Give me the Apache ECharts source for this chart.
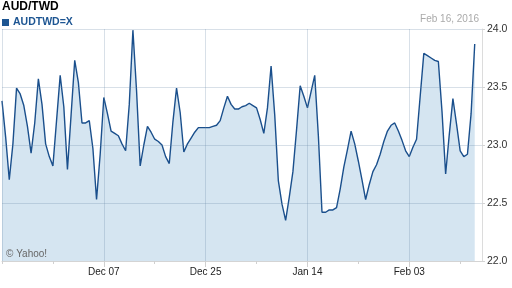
<!DOCTYPE html>
<html>
<head>
<meta charset="utf-8">
<script src="https://cdn.jsdelivr.net/npm/echarts@6/dist/echarts.min.js"></script>
<style>
html,body{margin:0;padding:0;background:#fff;}
#c{width:512px;height:288px;}
</style>
</head>
<body>
<div id="c"></div>
<script>
// AUD/TWD, two samples per trading day starting Nov 17, 2015
const values = [
23.38,23.07,22.70,23.01,23.49,23.44,23.34,23.16,22.93,23.19,
23.57,23.35,23.01,22.90,22.82,23.21,23.60,23.33,22.79,23.26,
23.73,23.54,23.19,23.19,23.21,22.97,22.53,22.92,23.41,23.27,
23.12,23.10,23.08,23.01,22.95,23.35,23.99,23.47,22.82,23.00,
23.16,23.11,23.05,23.03,23.00,22.90,22.84,23.20,23.49,23.28,
22.94,23.01,23.06,23.11,23.15,23.15,23.15,23.15,23.16,23.17,
23.21,23.32,23.42,23.35,23.31,23.31,23.33,23.34,23.36,23.34,
23.32,23.22,23.10,23.32,23.68,23.26,22.69,22.49,22.35,22.55,
22.77,23.13,23.51,23.42,23.32,23.46,23.60,23.08,22.42,22.42,
22.44,22.44,22.46,22.62,22.81,22.96,23.12,23.01,22.86,22.70,
22.53,22.66,22.77,22.83,22.92,23.03,23.12,23.17,23.19,23.12,
23.04,22.95,22.90,22.98,23.05,23.42,23.79,23.77,23.75,23.73,
23.72,23.29,22.75,23.09,23.40,23.18,22.95,22.90,22.92,23.27,
23.87
];
const tickLabels = ['Dec 07', 'Dec 25', 'Jan 14', 'Feb 03'];
const yTicks = [22.0, 22.5, 23.0, 23.5, 24.0];
const seriesName = 'AUDTWD=X';
const titleText = 'AUD/TWD';
const dateText = 'Feb 16, 2016';

// trading-day categories (weekdays), two per day
const months = ['Jan','Feb','Mar','Apr','May','Jun','Jul','Aug','Sep','Oct','Nov','Dec'];
const tradingDays = [];
let d = new Date(Date.UTC(2015, 10, 17));
while (tradingDays.length < 67) {
  const wd = d.getUTCDay();
  if (wd !== 0 && wd !== 6) {
    tradingDays.push(months[d.getUTCMonth()] + ' ' + String(d.getUTCDate()).padStart(2, '0'));
  }
  d.setUTCDate(d.getUTCDate() + 1);
}
const categories = [];
tradingDays.forEach((t, i) => {
  categories.push(t);
  if (i < tradingDays.length - 1) categories.push(t + ' PM');
});

const FONT = '"Liberation Sans", Arial, Helvetica, sans-serif';
const LINE = '#1a4f8c';
const GRID = 'rgba(100,130,165,0.25)';

const chart = echarts.init(document.getElementById('c'), null, {renderer: 'canvas'});
chart.setOption({
  animation: false,
  backgroundColor: '#fff',
  title: {
    text: titleText, left: 2, top: 1, padding: 0,
    textStyle: {fontFamily: FONT, fontSize: 12, fontWeight: 'bold', color: '#000'}
  },
  legend: {
    data: [seriesName], left: 2, top: 17, padding: 0,
    icon: 'rect', itemWidth: 7, itemHeight: 7,
    textStyle: {fontFamily: FONT, fontSize: 10.5, fontWeight: 'bold', color: '#1d5592', padding: [0,0,0,-1]}
  },
  graphic: [
    {type: 'text', right: 33, top: 14, z: 10,
     style: {text: dateText, fill: '#aaaaaa', font: '10px ' + FONT}},
    {type: 'text', left: 6, top: 249, z: 10,
     style: {text: '\u00a9 Yahoo!', fill: '#666666', font: '10px ' + FONT}}
  ],
  grid: {left: 2, right: 30, top: 29, bottom: 27, containLabel: false},
  xAxis: [{
    type: 'category', data: categories, boundaryGap: false, z: 3,
    axisLine: {show: true, lineStyle: {color: '#d4d4d4', width: 1}},
    axisTick: {show: true, length: 3, interval: (i) => i % 14 === 0, lineStyle: {color: '#d0d0d0'}},
    axisLabel: {
      interval: (i, v) => tickLabels.indexOf(v) >= 0,
      margin: 6, fontFamily: FONT, fontSize: 10, color: '#222'
    },
    splitLine: {show: true, interval: (i) => i % 28 === 0, lineStyle: {color: GRID, width: 1}}
  }, {
    type: 'category', data: categories, boundaryGap: false, position: 'bottom', offset: 0, z: 3,
    axisLine: {show: false},
    axisTick: {show: true, length: 6, interval: (i) => i % 28 === 0 && i > 0, lineStyle: {color: '#d0d0d0'}},
    axisLabel: {show: false},
    splitLine: {show: false}
  }],
  yAxis: {
    type: 'value', position: 'right', min: yTicks[0], max: yTicks[yTicks.length - 1], interval: 0.5, z: 3,
    axisLine: {show: true, lineStyle: {color: '#dcdcdc'}},
    axisTick: {show: true, length: 3, lineStyle: {color: '#d4d4d4'}},
    axisLabel: {margin: 5, fontFamily: FONT, fontSize: 10.5, color: '#333', formatter: (v) => v.toFixed(1)},
    splitLine: {show: true, lineStyle: {color: GRID, width: 1}}
  },
  series: [{
    name: seriesName, type: 'line', xAxisIndex: 0, data: values, z: 2,
    showSymbol: false, symbol: 'none', smooth: false,
    itemStyle: {color: '#1d5592'},
    lineStyle: {color: LINE, width: 1.4},
    areaStyle: {color: '#d5e5f1', opacity: 1}
  }]
});
</script>
</body>
</html>
